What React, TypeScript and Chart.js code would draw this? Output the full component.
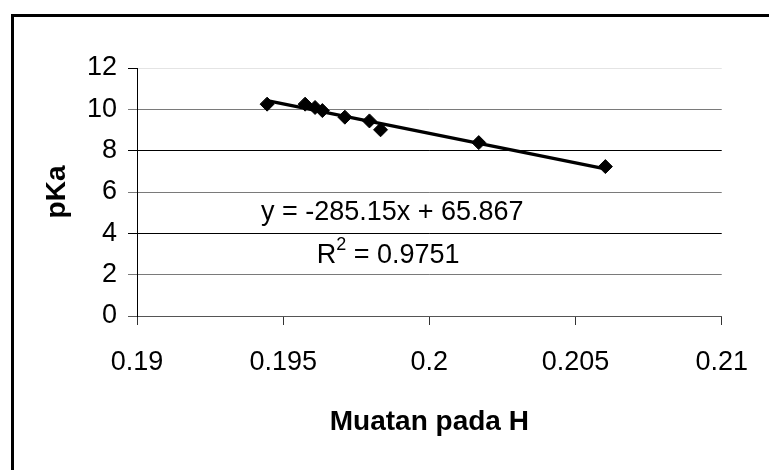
import React, { useEffect, useRef } from "react";
import { Chart, registerables } from "chart.js";

Chart.register(...registerables);

// ---- data ----
const muatanH = [0.19445, 0.19575, 0.19609, 0.19634, 0.19711, 0.19795, 0.19833, 0.20169, 0.20602];
const pKaValues = [10.25, 10.25, 10.09, 9.94, 9.62, 9.44, 9.01, 8.39, 7.23];
const trendX = [0.19445, 0.20602];
const trendY = [10.42, 7.12];
const xTickLabels = ["0.19", "0.195", "0.2", "0.205", "0.21"];
const yTickValues = [0, 2, 4, 6, 8, 10, 12];
const equationText = "y = -285.15x + 65.867";
const r2Text = "0.9751";
const xTitle = "Muatan pada H";
const yTitle = "pKa";

const TEXT_FONT = '"Liberation Sans", Arial, sans-serif';

const equationPlugin = {
  id: "equationLabel",
  afterDatasetsDraw(chart: any) {
    const { ctx, scales } = chart;
    const xs = scales.x;
    const ys = scales.y;
    const cxEq = xs.getPixelForValue(0.19873);
    const cxR2 = xs.getPixelForValue(0.19859);
    const y1 = ys.getPixelForValue(4.64);
    const y2 = ys.getPixelForValue(2.556);
    ctx.save();
    ctx.fillStyle = "#000";
    ctx.textBaseline = "alphabetic";
    ctx.font = `27px ${TEXT_FONT}`;
    ctx.textAlign = "center";
    ctx.fillText(equationText, cxEq, y1);

    ctx.textAlign = "left";
    const main = "R";
    const rest = " = " + r2Text;
    ctx.font = `27px ${TEXT_FONT}`;
    const wR = ctx.measureText(main).width;
    const wRest = ctx.measureText(rest).width;
    ctx.font = `18px ${TEXT_FONT}`;
    const wSup = ctx.measureText("2").width;
    const total = wR + wSup + wRest;
    let x = cxR2 - total / 2;
    ctx.font = `27px ${TEXT_FONT}`;
    ctx.fillText(main, x, y2);
    x += wR;
    ctx.font = `18px ${TEXT_FONT}`;
    ctx.fillText("2", x, y2 - 13);
    x += wSup;
    ctx.font = `27px ${TEXT_FONT}`;
    ctx.fillText(rest, x, y2);
    ctx.restore();
  },
};

function gridColor(v: number) {
  if (v === 12) return "#e4e4e4";
  if (v === 8 || v === 4) return "#000000";
  if (v === 0) return "#555555";
  return "#7a7a7a";
}

export default function App() {
  const canvasRef = useRef<HTMLCanvasElement | null>(null);

  useEffect(() => {
    if (!canvasRef.current) return;
    const chart = new Chart(canvasRef.current, {
      type: "scatter",
      data: {
        datasets: [
          {
            type: "line",
            label: "Trend",
            data: trendX.map((x, i) => ({ x, y: trendY[i] })),
            borderColor: "#000",
            borderWidth: 3.5,
            pointRadius: 0,
            fill: false,
          } as any,
          {
            label: "pKa",
            data: muatanH.map((x, i) => ({ x, y: pKaValues[i] })),
            pointStyle: "rectRot",
            pointRadius: 7,
            pointHoverRadius: 7,
            backgroundColor: "#000",
            borderColor: "#000",
            borderWidth: 1,
          },
        ],
      },
      options: {
        responsive: false,
        animation: false,
        layout: { padding: { left: 0, top: 68, right: 42, bottom: 0 } },
        plugins: {
          legend: { display: false },
          tooltip: { enabled: false },
        },
        scales: {
          x: {
            type: "linear",
            min: 0.19,
            max: 0.21,
            ticks: {
              stepSize: 0.005,
              padding: 21,
              color: "#000",
              font: { family: TEXT_FONT, size: 27 },
              maxRotation: 0,
              callback: (_v: any, i: number) => xTickLabels[i],
            },
            grid: {
              display: true,
              drawOnChartArea: false,
              drawTicks: true,
              tickLength: 9,
              color: "#333",
              tickColor: "#333",
            },
            border: { display: true, color: "#555", width: 1 },
            title: {
              display: true,
              text: xTitle,
              color: "#000",
              font: { family: TEXT_FONT, size: 28, weight: "bold" },
              padding: { top: 0, bottom: 31 },
            },
            afterFit: (s: any) => {
              s.height = 154;
            },
          },
          y: {
            type: "linear",
            min: 0,
            max: 12,
            afterBuildTicks: (s: any) => {
              s.ticks = yTickValues.map((v) => ({ value: v }));
            },
            ticks: {
              padding: 11,
              color: "#000",
              font: { family: TEXT_FONT, size: 27 },
            },
            grid: {
              drawTicks: true,
              tickLength: 9,
              lineWidth: 1,
              color: (c: any) => gridColor(c.tick ? c.tick.value : 0),
              tickColor: (c: any) => (c.tick && c.tick.value === 12 ? "#000" : gridColor(c.tick ? c.tick.value : 0)),
            },
            border: { display: true, color: "#000", width: 1 },
            title: {
              display: true,
              text: yTitle,
              color: "#000",
              font: { family: TEXT_FONT, size: 28, weight: "bold" },
              padding: { top: 40, bottom: 0 },
            },
            afterFit: (s: any) => {
              s.width = 137;
            },
          },
        },
      },
      plugins: [equationPlugin],
    });
    return () => chart.destroy();
  }, []);

  return (
    <div style={{ position: "fixed", left: 0, top: 0, width: 769, height: 470, overflow: "hidden", background: "#fff" }}>
      <div
        style={{
          position: "absolute",
          left: 11,
          top: 14,
          width: 800,
          height: 500,
          border: "3px solid #000",
          boxSizing: "border-box",
        }}
      />
      <canvas
        ref={canvasRef}
        width={769}
        height={470}
        style={{ position: "absolute", left: 0, top: 0, width: 769, height: 470 }}
      />
    </div>
  );
}
